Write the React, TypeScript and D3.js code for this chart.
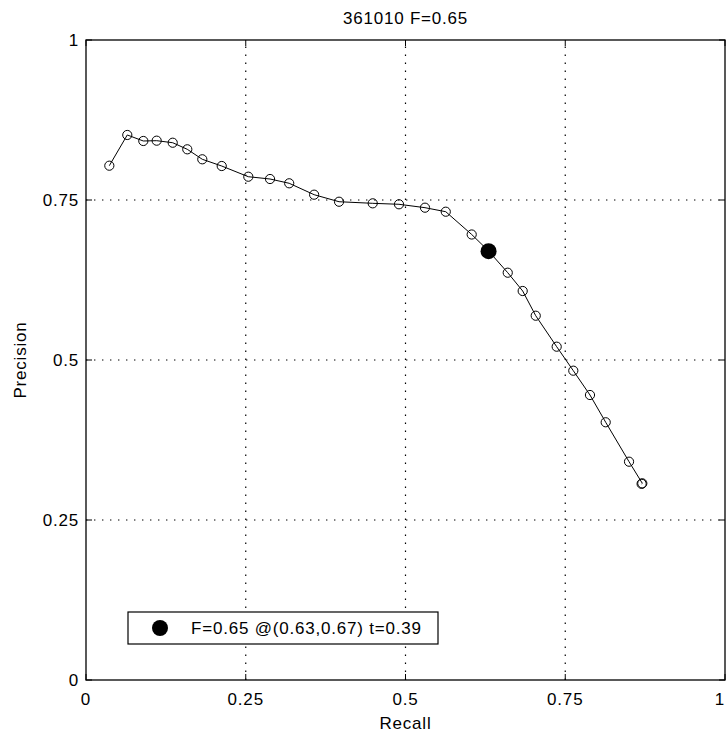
import React from "react";
import * as d3 from "d3";

// Precision / recall curve sampled at successive thresholds
const recall = [
  0.0365, 0.0646, 0.0897, 0.1106, 0.1357, 0.1585, 0.182, 0.2124, 0.254, 0.288,
  0.318, 0.357, 0.396, 0.4487, 0.4898, 0.5305, 0.563, 0.6036, 0.629, 0.66,
  0.6834, 0.7038, 0.7366, 0.7626, 0.7887, 0.8133, 0.8498, 0.8706, 0.8695,
];
const precision = [
  0.8036, 0.8516, 0.8422, 0.8427, 0.8395, 0.8292, 0.8136, 0.8031, 0.7864, 0.7828,
  0.7761, 0.7583, 0.7473, 0.7448, 0.7433, 0.738, 0.7317, 0.6961, 0.6714, 0.6364,
  0.6078, 0.5692, 0.5208, 0.4833, 0.4453, 0.4027, 0.3411, 0.3073, 0.3065,
];

// Best F-measure operating point
const bestF = 0.65;
const bestRecall = 0.63;
const bestPrecision = 0.67;
const bestThreshold = 0.39;

const imageId = "361010";
const tickValues = [0, 0.25, 0.5, 0.75, 1];
const tickLabels = ["0", "0.25", "0.5", "0.75", "1"];
const gridValues = [0.25, 0.5, 0.75];

const W = 726;
const H = 733;
const left = 86;
const right = 725;
const top = 40;
const bottom = 680;

const FONT = "'Liberation Sans', Arial, Helvetica, sans-serif";

export default function App() {
  const x = d3.scaleLinear().domain([0, 1]).range([left, right]);
  const y = d3.scaleLinear().domain([0, 1]).range([bottom, top]);

  const pts: [number, number][] = recall.map((r, i) => [r, precision[i]]);
  const line = d3
    .line<[number, number]>()
    .x((d) => x(d[0]))
    .y((d) => y(d[1]));

  const textStyle: React.CSSProperties = {
    fontFamily: FONT,
    fontSize: 17,
    letterSpacing: 0.8,
    fill: "#000",
  };

  const tickLen = 6;

  return (
    <svg
      width={W}
      height={H}
      style={{ position: "absolute", left: 0, top: 0, background: "#fff" }}
    >
      <rect x={0} y={0} width={W} height={H} fill="#fff" />

      {/* dotted grid */}
      <g stroke="#000" strokeWidth={1.2} strokeDasharray="1.4 6.6">
        {gridValues.map((v) => (
          <line key={"gx" + v} x1={x(v)} x2={x(v)} y1={bottom} y2={top} />
        ))}
        {gridValues.map((v) => (
          <line key={"gy" + v} x1={left} x2={right} y1={y(v)} y2={y(v)} />
        ))}
      </g>

      {/* tick marks on all four sides */}
      <g stroke="#000" strokeWidth={1}>
        {tickValues.map((v) => (
          <g key={"t" + v}>
            <line x1={x(v)} x2={x(v)} y1={bottom} y2={bottom - tickLen} />
            <line x1={x(v)} x2={x(v)} y1={top} y2={top + tickLen} />
            <line x1={left} x2={left + tickLen} y1={y(v)} y2={y(v)} />
            <line x1={right} x2={right - tickLen} y1={y(v)} y2={y(v)} />
          </g>
        ))}
      </g>

      {/* axes box */}
      <rect
        x={left}
        y={top}
        width={right - left}
        height={bottom - top}
        fill="none"
        stroke="#000"
        strokeWidth={1.3}
      />

      {/* curve */}
      <path d={line(pts) || ""} fill="none" stroke="#000" strokeWidth={1} />
      {pts.map((d, i) => (
        <circle
          key={"p" + i}
          cx={x(d[0])}
          cy={y(d[1])}
          r={4.6}
          fill="none"
          stroke="#000"
          strokeWidth={1}
        />
      ))}
      <circle cx={x(bestRecall)} cy={y(bestPrecision)} r={8} fill="#000" />

      {/* tick labels */}
      {tickValues.map((v, i) => {
        const last = i === tickValues.length - 1;
        return (
          <text
            key={"xl" + v}
            x={last ? W - 1 : x(v)}
            y={705}
            textAnchor={last ? "end" : "middle"}
            style={textStyle}
          >
            {tickLabels[i]}
          </text>
        );
      })}
      {tickValues.map((v, i) => (
        <text
          key={"yl" + v}
          x={79}
          y={y(v) + 6}
          textAnchor="end"
          style={textStyle}
        >
          {tickLabels[i]}
        </text>
      ))}

      {/* title and axis labels */}
      <text x={(left + right) / 2} y={24} textAnchor="middle" style={textStyle}>
        {`${imageId} F=${bestF.toFixed(2)}`}
      </text>
      <text x={(left + right) / 2} y={729} textAnchor="middle" style={textStyle}>
        Recall
      </text>
      <text
        transform={`translate(26, ${(top + bottom) / 2}) rotate(-90)`}
        textAnchor="middle"
        style={textStyle}
      >
        Precision
      </text>

      {/* legend */}
      <rect
        x={128}
        y={612}
        width={310}
        height={32}
        fill="#fff"
        stroke="#000"
        strokeWidth={1.2}
      />
      <circle cx={160} cy={628} r={8} fill="#000" />
      <text x={191} y={634} style={textStyle}>
        {`F=${bestF.toFixed(2)} @(${bestRecall.toFixed(2)},${bestPrecision.toFixed(2)}) t=${bestThreshold.toFixed(2)}`}
      </text>
    </svg>
  );
}
